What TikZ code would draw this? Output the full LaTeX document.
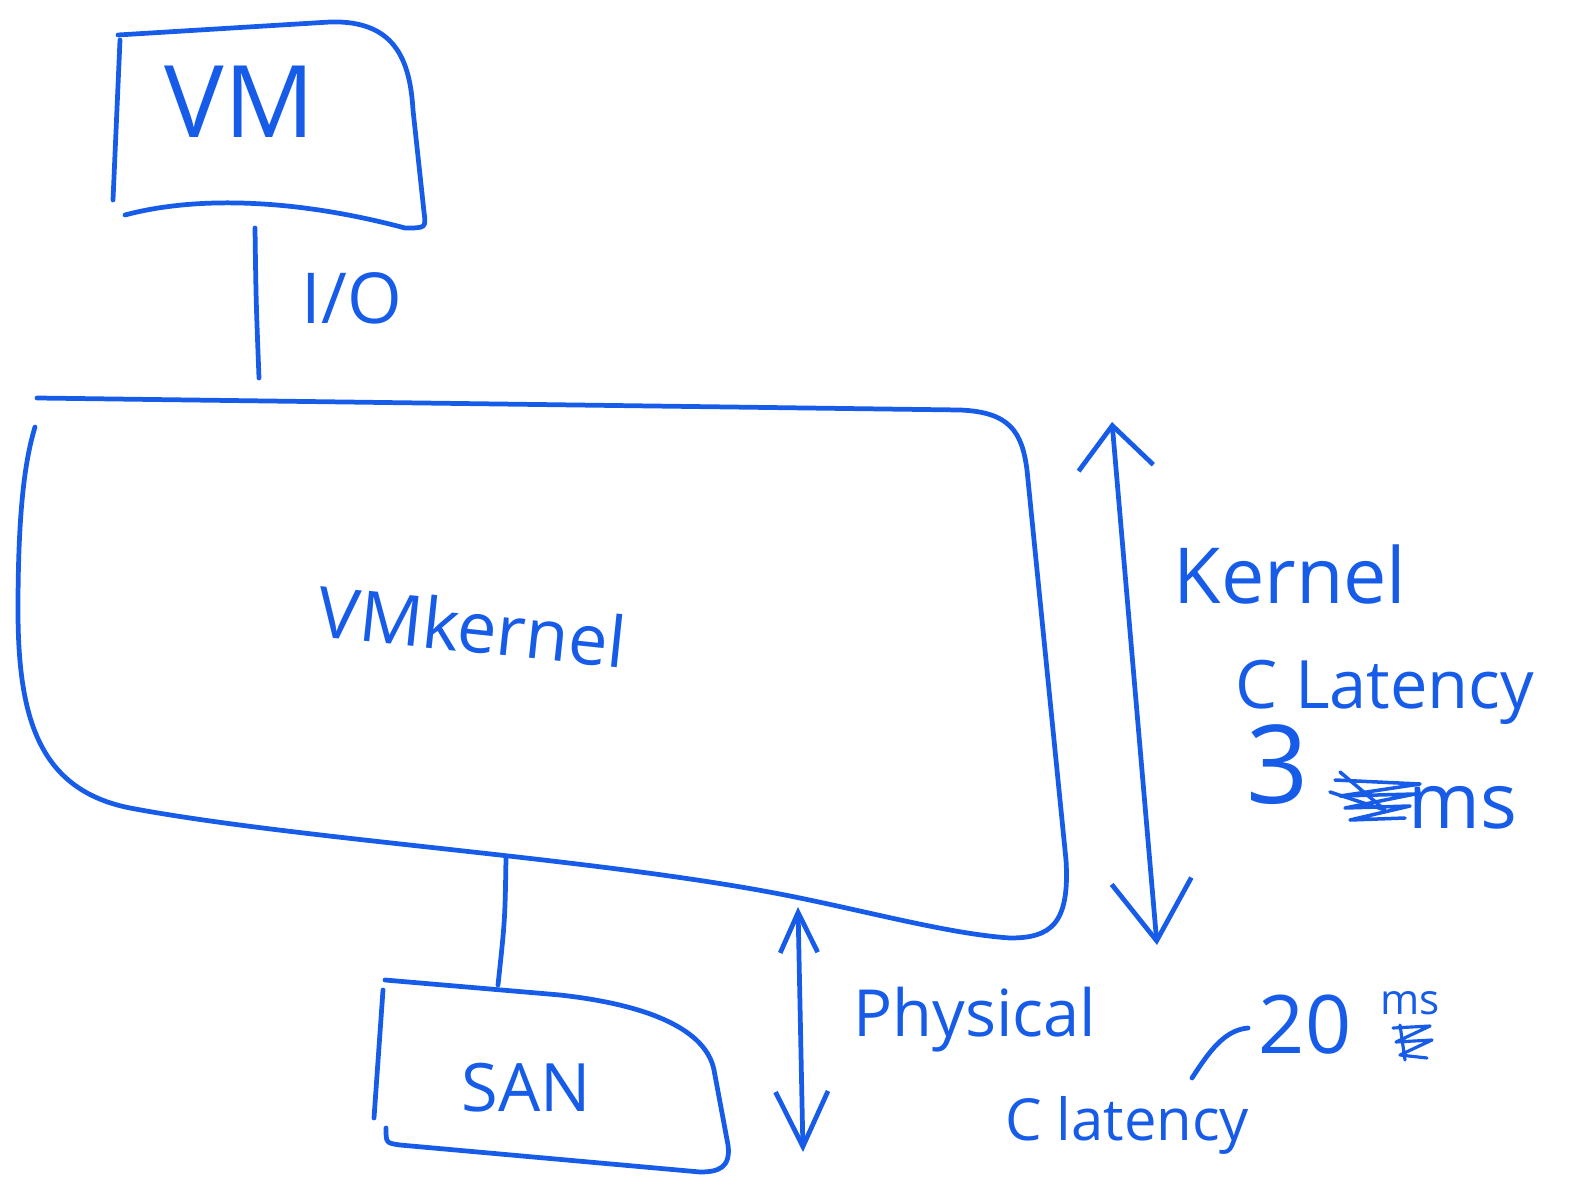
\documentclass[tikz,border=0pt]{standalone}
\usepackage{fontspec}
\setmainfont{Open Sans}
\usetikzlibrary{arrows.meta}
\definecolor{pen}{RGB}{22,92,232}
\begin{document}
\begin{tikzpicture}[x=0.02cm,y=-0.02cm,
  ink/.style={draw=pen,line width=2.7pt,line cap=round,line join=round},
  hand/.style={text=pen,inner sep=0pt,anchor=center},
  bigbarb/.style={ink,{Straight Barb[length=0.85cm,width=1.5cm]}-{Straight Barb[length=1.2cm,width=1.6cm]}},
  smallbarb/.style={ink,{Straight Barb[length=0.8cm,width=0.75cm]}-{Straight Barb[length=1.1cm,width=1.05cm]}}]
\useasboundingbox (0,0) rectangle (1585,1189);
% VM box
\draw[ink] (113,200) .. controls (116,120) .. (120,40);
\draw[ink] (118,35) -- (330,22) .. controls (395,20) and (410,60) .. (413,110) -- (424,212) .. controls (426,228) .. (405,228) .. controls (300,200) and (200,195) .. (125,215);
\node[hand,font=\fontsize{57}{60}\selectfont] (vm) at (240,102) {VM};
% VMkernel box
\draw[ink] (37,398) -- (960,410) .. controls (1010,412) and (1022,432) .. (1027,470) -- (1066,860) .. controls (1070,925) and (1050,938) .. (1010,938) .. controls (950,934) and (870,912) .. (790,896) .. controls (600,858) and (300,840) .. (130,808) .. controls (40,790) and (18,720) .. (18,610) .. controls (18,510) and (25,460) .. (35,427);
\node[hand,font=\fontsize{40}{44}\selectfont,rotate=-6] (vmk) at (472,626) {VMkernel};
% I/O connector
\coordinate (io1) at (255,228);
\coordinate (io2) at (259,378);
\draw[ink] (io1) .. controls (256,300) .. (io2);
\node[hand,font=\fontsize{40}{44}\selectfont] (io) at (352,298) {I/O};
% SAN box
\draw[ink] (383,990) -- (374,1118);
\draw[ink] (385,980) -- (560,995) .. controls (650,1005) and (706,1030) .. (714,1070) -- (728,1145) .. controls (731,1168) and (718,1172) .. (700,1172) -- (400,1145) .. controls (386,1143) .. (386,1128);
\node[hand,font=\fontsize{38}{42}\selectfont] (san) at (526,1088) {SAN};
% SAN to VMkernel connector
\coordinate (s1) at (506,857);
\coordinate (s2) at (498,985);
\draw[ink] (s1) .. controls (505,920) .. (s2);
% Kernel latency arrow
\coordinate (k1) at (1112,422);
\coordinate (k2) at (1157,945);
\draw[bigbarb] (k1) -- (k2);
\node[hand,font=\fontsize{44}{48}\selectfont] (kern) at (1290,575) {Kernel};
\node[hand,font=\fontsize{38}{42}\selectfont] (klat) at (1385,692) {C Latency};
\node[hand,font=\fontsize{62}{66}\selectfont] (three) at (1278,765) {3};
\node[hand,font=\fontsize{44}{48}\selectfont] (kms) at (1463,808) {ms};
\draw[ink,line width=2pt] (1335,780) -- (1420,784) -- (1340,796) -- (1415,794) -- (1345,808) -- (1410,806) -- (1350,820) -- (1405,818);
\draw[ink,line width=2pt] (1330,792) -- (1385,810) -- (1340,772);
% Physical latency arrow
\coordinate (p1) at (798,907);
\coordinate (p2) at (803,1152);
\draw[smallbarb] (p1) -- (p2);
\node[hand,font=\fontsize{37}{40}\selectfont] (phys) at (975,1020) {Physical};
\node[hand,font=\fontsize{33}{36}\selectfont] (plat) at (1127,1125) {C latency};
\coordinate (c1) at (1192,1078);
\coordinate (c2) at (1248,1028);
\draw[ink] (c1) .. controls (1210,1050) and (1225,1030) .. (c2);
\node[hand,font=\fontsize{46}{50}\selectfont] (twenty) at (1305,1025) {20};
\node[hand,font=\fontsize{24}{26}\selectfont] (pms) at (1410,1003) {ms};
\draw[ink,line width=1.8pt] (1393,1028) -- (1430,1026) -- (1396,1042) -- (1432,1040) -- (1400,1055) -- (1427,1058);
\draw[ink,line width=1.8pt] (1400,1025) -- (1405,1060);
\end{tikzpicture}
\end{document}
